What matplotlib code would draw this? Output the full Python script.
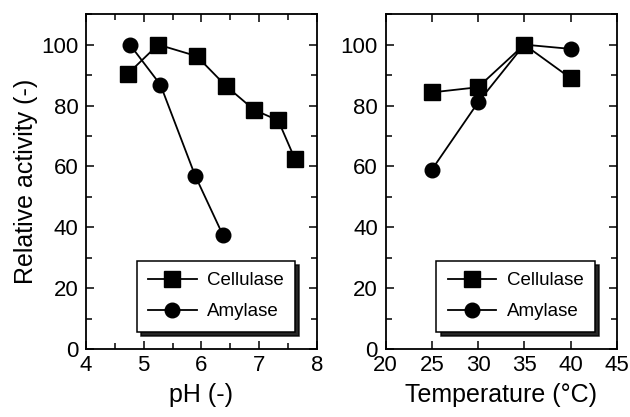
import matplotlib

matplotlib.use("Agg")
import matplotlib.pyplot as plt  # noqa: E402
from matplotlib.ticker import MultipleLocator  # noqa: E402

plt.rcParams["font.family"] = ["Liberation Sans", "DejaVu Sans"]

# pH profile
ph_cellulase = [4.73, 5.25, 5.92, 6.42, 6.91, 7.33, 7.62]
act_ph_cellulase = [90.5, 100, 96.2, 86.5, 78.6, 75.1, 62.4]
ph_amylase = [4.76, 5.29, 5.89, 6.37]
act_ph_amylase = [100, 86.8, 57.0, 37.5]

# temperature profile
temp = [25, 30, 35, 40]
act_temp_cellulase = [84.3, 86.0, 100, 89.0]
act_temp_amylase = [58.9, 81.0, 100, 98.6]

fig = plt.figure(figsize=(6.3, 4.17), dpi=100)
ax1 = fig.add_axes([0.1365, 0.163, 0.3665, 0.803])
ax2 = fig.add_axes([0.612, 0.163, 0.367, 0.803])

style = dict(color="black", linewidth=1.3)


def _decorate(ax):
    ax.set_ylim(0, 110)
    ax.yaxis.set_major_locator(MultipleLocator(20))
    ax.yaxis.set_minor_locator(MultipleLocator(10))
    ax.tick_params(which="both", direction="in", top=True, right=True,
                   width=1.1, labelsize=16)
    ax.tick_params(axis="y", pad=5.5)
    ax.tick_params(axis="x", pad=4.5)
    ax.tick_params(which="major", length=5.5)
    ax.tick_params(which="minor", length=4)
    for sp in ax.spines.values():
        sp.set_linewidth(1.3)
    leg = ax.legend(loc="lower right", bbox_to_anchor=(0.905, 0.052),
                    borderaxespad=0, fontsize=13.5, fancybox=False,
                    edgecolor="black", handlelength=2.6, framealpha=1,
                    handletextpad=0.55, borderpad=0.6, labelspacing=0.75,
                    shadow={"color": "black", "alpha": 0.85, "ox": 3, "oy": -3})
    leg.get_frame().set_linewidth(1.1)


ax1.plot(ph_cellulase, act_ph_cellulase, marker="s", markersize=12, label="Cellulase", **style)
ax1.plot(ph_amylase, act_ph_amylase, marker="o", markersize=10.5, label="Amylase", **style)
ax1.set_xlim(4, 8)
ax1.xaxis.set_major_locator(MultipleLocator(1))
ax1.xaxis.set_minor_locator(MultipleLocator(0.5))
ax1.set_xlabel("pH (-)", fontsize=18, labelpad=5)
ax1.set_ylabel("Relative activity (-)", fontsize=18, labelpad=2)
_decorate(ax1)

ax2.plot(temp, act_temp_cellulase, marker="s", markersize=12, label="Cellulase", **style)
ax2.plot(temp, act_temp_amylase, marker="o", markersize=10.5, label="Amylase", **style)
ax2.set_xlim(20, 45)
ax2.xaxis.set_major_locator(MultipleLocator(5))
ax2.set_xlabel("Temperature (°C)", fontsize=18, labelpad=5)
_decorate(ax2)

fig.savefig("out.png", dpi=100)
